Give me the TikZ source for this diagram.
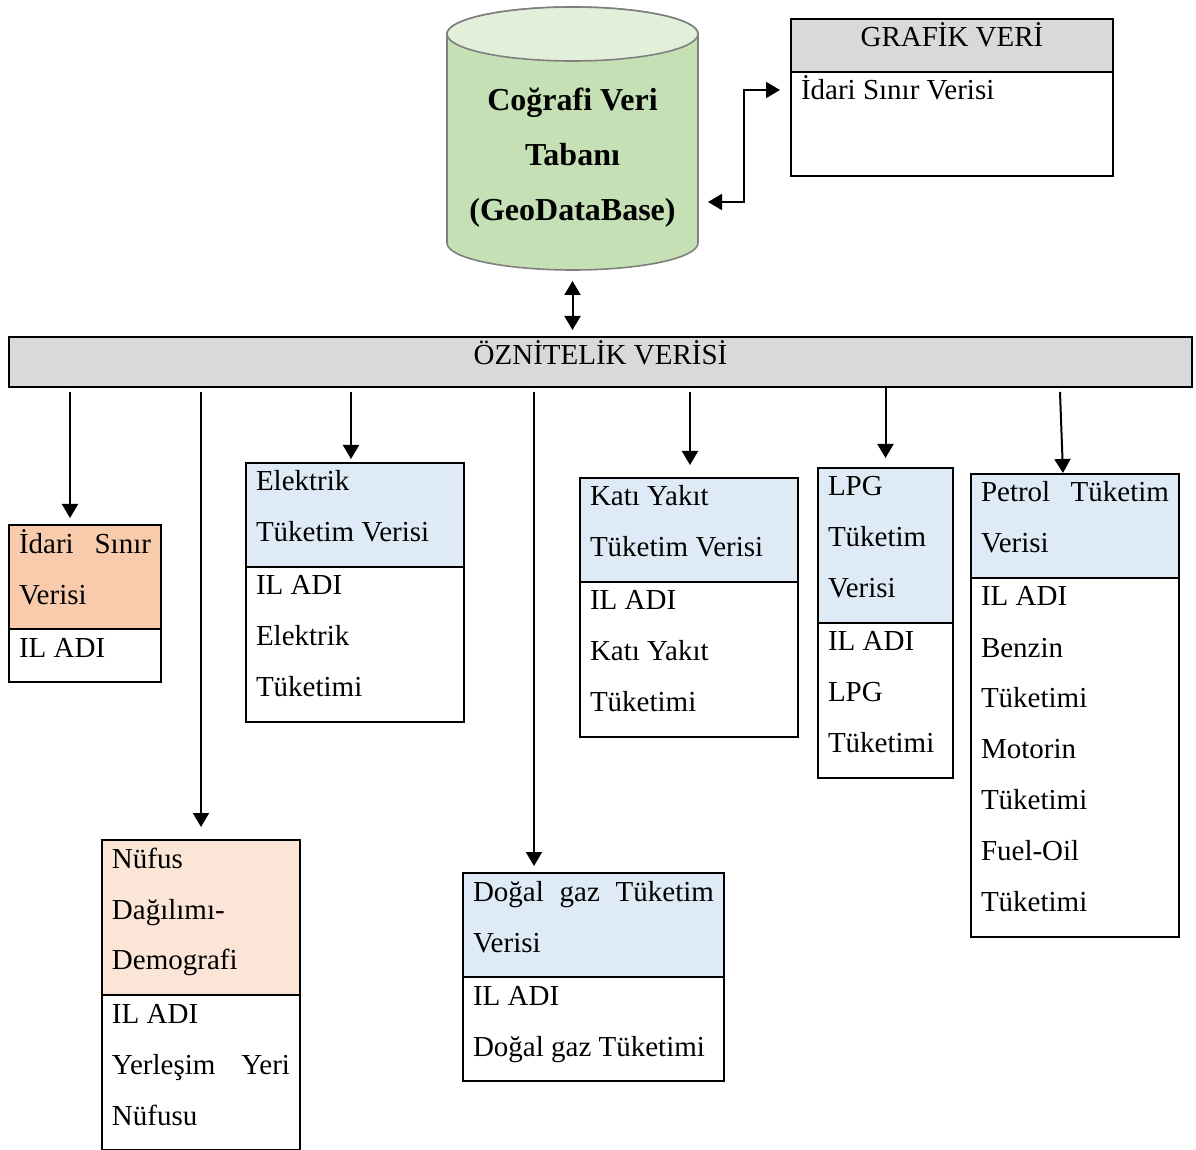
\documentclass[tikz,border=0pt]{standalone}
\usepackage{fontspec}
\setmainfont{Liberation Serif}
\usetikzlibrary{shapes.multipart,arrows.meta}

\setlength{\parindent}{0pt}
\definecolor{headblue}{HTML}{DEEBF7}
\definecolor{headorange}{HTML}{F8CBAD}
\definecolor{headpeach}{HTML}{FBE5D6}
\definecolor{headgray}{HTML}{D9D9D9}
\definecolor{dbbody}{HTML}{C5E0B4}
\definecolor{dbtop}{HTML}{E2F0D9}
\definecolor{dbline}{HTML}{7F7F7F}
\newcommand{\rowstrut}{\rule[-12pt]{0pt}{25.5pt}}
\newcommand{\cell}[1]{\spaceskip=0pt\xspaceskip=0pt\rowstrut#1\rowstrut}

\begin{document}
\begin{tikzpicture}[x=0.5pt, y=-0.5pt]
    \tikzstyle{tbl} = [rectangle split, rectangle split parts=2, draw, line width=1pt, anchor=north west, align=left, inner xsep=5pt, inner ysep=0pt, font=\fontsize{14.5}{25.5}\selectfont]
    \tikzstyle{bluetbl} = [tbl, rectangle split part fill={headblue, white}]
    \tikzstyle{orangetbl} = [tbl, rectangle split part fill={headorange, white}]
    \tikzstyle{peachtbl} = [tbl, rectangle split part fill={headpeach, white}]
    \tikzstyle{graytbl} = [tbl, rectangle split part fill={headgray, white}]
    \tikzstyle{bar} = [draw, line width=1pt, fill=headgray, anchor=north west, minimum width=591.5pt, minimum height=25pt, inner ysep=0pt, text height=14pt, text depth=11pt, font=\fontsize{14.5}{17}\selectfont]
    \tikzstyle{dbshape} = [minimum width=125.5pt, minimum height=131.5pt, inner sep=0pt, outer sep=0pt]
    \tikzstyle{dbtext} = [align=center, font=\fontsize{16}{27.5}\selectfont\bfseries]
    \tikzstyle{dbwall} = [draw=dbline, line width=0.8pt]
    \tikzstyle{arrow} = [-{Triangle[width=8pt, length=7pt]}, line width=1pt]
    \tikzstyle{biarrow} = [{Triangle[width=8pt, length=7pt]}-{Triangle[width=8pt, length=7pt]}, line width=1pt]

    \useasboundingbox (0,0) rectangle (1196,1150);

    % geodatabase cylinder
    \draw[dbwall, fill=dbbody] (447,34) -- (447,243) arc[start angle=180, end angle=360, x radius=62.75pt, y radius=13.5pt] -- (698,34) arc[start angle=0, end angle=180, x radius=62.75pt, y radius=13.5pt] -- cycle;
    \draw[dbwall, fill=dbtop] (572.5,34) ellipse [x radius=62.75pt, y radius=13.5pt];
    \node[dbshape] (geodb) at (572.5,138.5) {};
    \node[dbtext] (dblabel) at (572.5,158) {Coğrafi Veri\\Tabanı\\(GeoDataBase)};

    \node[graytbl, text width=151pt] (grafik) at (790,18) {\cell{\hfill GRAFİK VERİ\hfill}\nodepart{two}\cell{İdari Sınır Verisi\\}};
    \node[bar] (attr) at (8,336) {ÖZNİTELİK VERİSİ};

    % tables
    \node[orangetbl, text width=66pt] (idari) at (8,524) {\cell{İdari\hfill Sınır\\Verisi}\nodepart{two}\cell{IL ADI}};
    \node[peachtbl, text width=89pt] (nufus) at (101,839) {\cell{Nüfus\\Dağılımı-\\Demografi}\nodepart{two}\cell{IL ADI\\Yerleşim\hfill Yeri\\Nüfusu}};
    \node[bluetbl, text width=99pt] (elektrik) at (245,462) {\cell{Elektrik\\Tüketim Verisi}\nodepart{two}\cell{IL ADI\\Elektrik\\Tüketimi}};
    \node[bluetbl, text width=120.5pt] (dogalgaz) at (462,872) {\cell{Doğal\hfill gaz\hfill Tüketim\\Verisi}\nodepart{two}\cell{IL ADI\\Doğal gaz Tüketimi}};
    \node[bluetbl, text width=99pt] (kati) at (579,477) {\cell{Katı Yakıt\\Tüketim Verisi}\nodepart{two}\cell{IL ADI\\Katı Yakıt\\Tüketimi}};
    \node[bluetbl, text width=57.5pt] (lpg) at (817,467) {\cell{LPG\\Tüketim\\Verisi}\nodepart{two}\cell{IL ADI\\LPG\\Tüketimi}};
    \node[bluetbl, text width=94pt] (petrol) at (970,473) {\cell{Petrol\hfill Tüketim\\Verisi}\nodepart{two}\cell{IL ADI\\Benzin\\Tüketimi\\Motorin\\Tüketimi\\Fuel-Oil\\Tüketimi}};

    % connectors
    \draw[biarrow] ([yshift=-5.5pt]geodb.south) -- ([yshift=3pt]attr.north -| geodb.south);
    \draw[biarrow] ([shift={(5pt,-31.75pt)}]geodb.east) -- ++(36,0) |- ([shift={(-5pt,3.75pt)}]grafik.west);

    \draw[arrow] ([xshift=-7.5pt, yshift=-2pt]attr.south -| idari.north) -- ([xshift=-7.5pt, yshift=3pt]idari.north);
    \draw[arrow] ([yshift=-2pt]attr.south -| nufus.north) -- ([yshift=6pt]nufus.north);
    \draw[arrow] ([xshift=-2pt, yshift=-2pt]attr.south -| elektrik.north) -- ([xshift=-2pt, yshift=1.5pt]elektrik.north);
    \draw[arrow] ([xshift=-29.75pt, yshift=-2pt]attr.south -| dogalgaz.north) -- ([xshift=-29.75pt, yshift=3pt]dogalgaz.north);
    \draw[arrow] ([xshift=0.5pt, yshift=-2pt]attr.south -| kati.north) -- ([xshift=0.5pt, yshift=6pt]kati.north);
    \draw[arrow] (attr.south -| lpg.north) -- ([yshift=4.5pt]lpg.north);
    \draw[arrow] ([xshift=-7.5pt, yshift=-2pt]attr.south -| petrol.north) -- ([xshift=-6pt]petrol.north);
\end{tikzpicture}
\end{document}
